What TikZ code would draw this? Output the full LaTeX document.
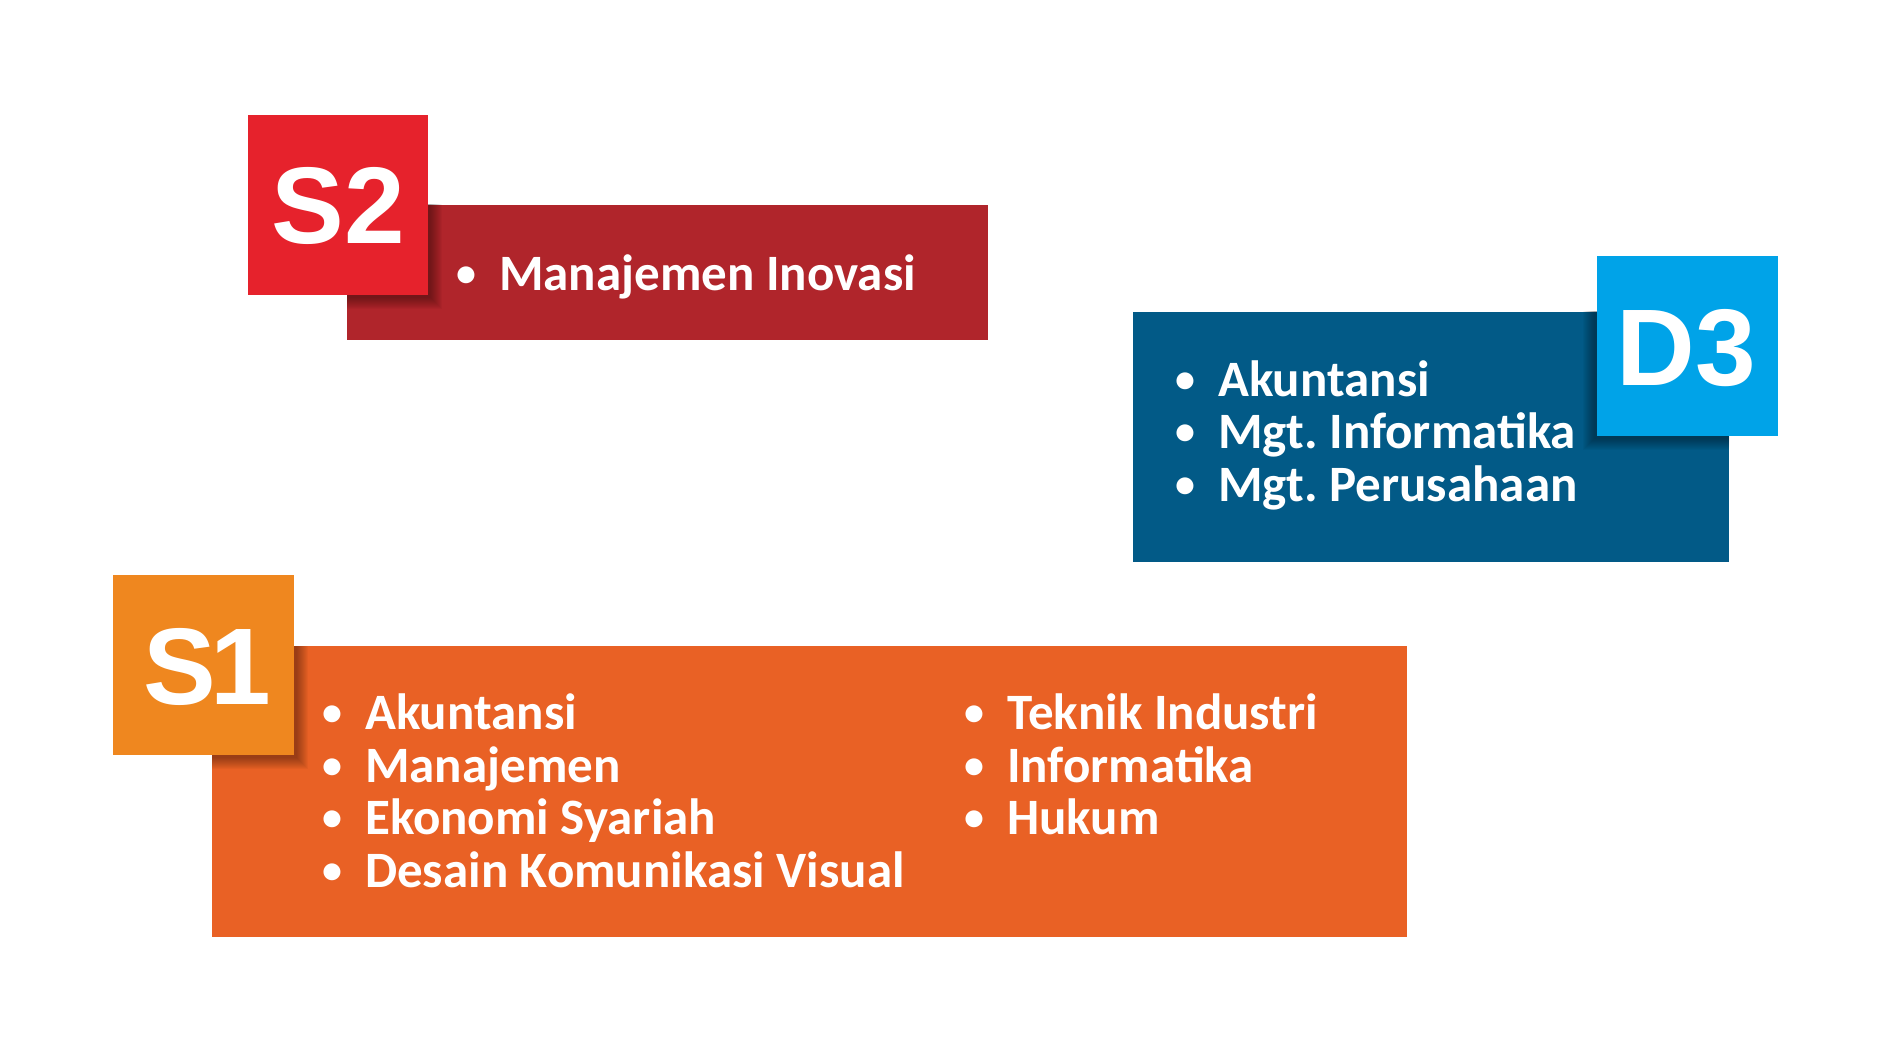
\documentclass[tikz,border=0pt]{standalone}
\usepackage{fontspec}
\setmainfont{Carlito}
\newfontfamily\labelfont{Liberation Sans}
\frenchspacing
\definecolor{sqred}{RGB}{230,34,44}
\definecolor{barred}{RGB}{176,37,43}
\definecolor{barblue}{RGB}{2,90,135}
\definecolor{sqblue}{RGB}{0,163,232}
\definecolor{sqorange}{RGB}{239,135,31}
\definecolor{barorange}{RGB}{233,97,37}
\newcommand\bul{\makebox[0pt][c]{\raisebox{4pt}{\fontsize{40}{40}\selectfont\textbullet}}\hspace{33pt}}
\tikzset{
  panel/.style={draw=none, inner sep=0, outer sep=0, anchor=north west},
  itemtext/.style={font=\fontsize{51}{60}\selectfont\bfseries, text=white, inner sep=0, anchor=base west},
  levellabel/.style={font=\labelfont\bfseries\fontsize{109}{109}\selectfont, text=white, inner sep=0, anchor=base},
}
\begin{document}
\begin{tikzpicture}[x=1pt, y=-1pt]
\useasboundingbox[fill=white] (0,0) rectangle (1890,1064);

% ---------- S2 ----------
\node[panel, fill=barred, minimum width=641pt, minimum height=135pt] (s2bar) at (347,205) {};
\node[panel, minimum width=180pt, minimum height=180pt] (s2sq) at (248,115) {};
\begin{scope}
  \clip (s2bar.north west) rectangle (s2bar.south east);
  \foreach \i in {0,...,11}
    \fill[black, opacity=0.03] ([xshift={(3-\i)*1pt}, yshift={(-3+\i)*1pt}]s2sq.north west) rectangle ([xshift={(3+\i)*1pt}, yshift={(-3-\i)*1pt}]s2sq.south east);
\end{scope}
\fill[sqred] (s2sq.north west) rectangle (s2sq.south east);
\node[levellabel] (s2lab) at (338,244) {S2};
\node[itemtext] (s2a) at (466,291) {\bul Manajemen Inovasi};

% ---------- D3 ----------
\node[panel, fill=barblue, minimum width=596pt, minimum height=250pt] (d3bar) at (1133,312) {};
\node[panel, minimum width=181pt, minimum height=180pt] (d3sq) at (1597,256) {};
\begin{scope}
  \clip (d3bar.north west) rectangle (d3bar.south east);
  \foreach \i in {0,...,11}
    \fill[black, opacity=0.03] ([xshift={(-3-\i)*1pt}, yshift={(-3+\i)*1pt}]d3sq.north west) rectangle ([xshift={(-3+\i)*1pt}, yshift={(-3-\i)*1pt}]d3sq.south east);
\end{scope}
\fill[sqblue] (d3sq.north west) rectangle (d3sq.south east);
\node[levellabel] (d3lab) at (1686,386) {D3};
\node[itemtext] (d3a) at (1185,396) {\bul Akuntansi};
\node[itemtext] (d3b) at (1185,448) {\bul Mgt. Informatika};
\node[itemtext] (d3c) at (1185,501) {\bul Mgt. Perusahaan};

% ---------- S1 ----------
\node[panel, fill=barorange, minimum width=1195pt, minimum height=291pt] (s1bar) at (212,646) {};
\node[panel, minimum width=181pt, minimum height=180pt] (s1sq) at (113,575) {};
\begin{scope}
  \clip (s1bar.north west) rectangle (s1bar.south east);
  \foreach \i in {0,...,11}
    \fill[black, opacity=0.03] ([xshift={(3-\i)*1pt}, yshift={(-3+\i)*1pt}]s1sq.north west) rectangle ([xshift={(3+\i)*1pt}, yshift={(-3-\i)*1pt}]s1sq.south east);
\end{scope}
\fill[sqorange] (s1sq.north west) rectangle (s1sq.south east);
\node[levellabel] (s1lab) at (207,704) {S\kern-6pt 1};
\node[itemtext] (s1a) at (332,729) {\bul Akuntansi};
\node[itemtext] (s1b) at (332,782) {\bul Manajemen};
\node[itemtext] (s1c) at (332,834) {\bul Ekonomi Syariah};
\node[itemtext] (s1d) at (332,887) {\bul Desain Komunikasi Visual};
\node[itemtext] (s1e) at (974,729) {\bul Teknik Industri};
\node[itemtext] (s1f) at (974,782) {\bul Informatika};
\node[itemtext] (s1g) at (974,834) {\bul Hukum};
\end{tikzpicture}
\end{document}
